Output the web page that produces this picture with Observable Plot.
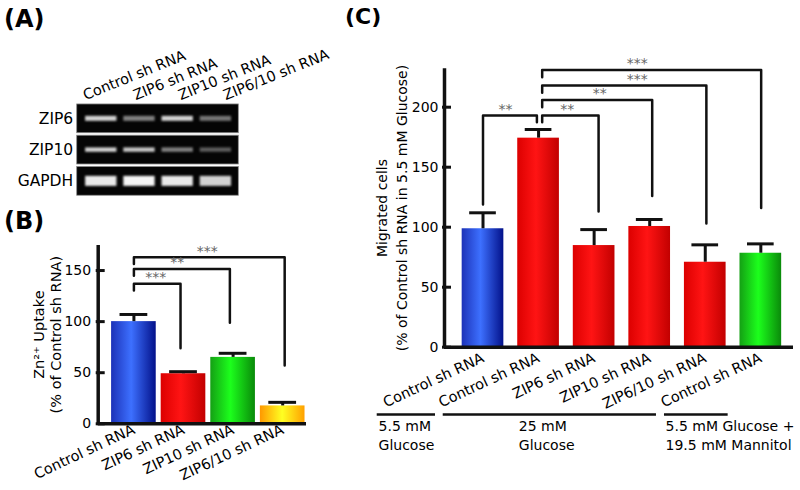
<!DOCTYPE html>
<html>
<head>
<meta charset="utf-8">
<script src="https://cdn.jsdelivr.net/npm/d3@7"></script>
<script src="https://cdn.jsdelivr.net/npm/@observablehq/plot@0.6"></script>
<style>
  body { margin: 0; background: #fff; font-family: "DejaVu Sans", sans-serif; }
  #fig { position: relative; width: 800px; height: 490px; overflow: hidden; background: #fff; }
  .panel { position: absolute; }
  .panel svg { max-width: none !important; overflow: visible; }
  .tag { position: absolute; font-family: "DejaVu Sans", sans-serif; font-weight: bold; line-height: 1; color: #000; }
</style>
</head>
<body>
<svg width="0" height="0" style="position:absolute">
  <defs>
    <linearGradient id="gBlue" x1="0" x2="1" y1="0" y2="0">
      <stop offset="0" stop-color="#1c32b8"/>
      <stop offset="0.45" stop-color="#3d70ff"/>
      <stop offset="1" stop-color="#03118a"/>
    </linearGradient>
    <linearGradient id="gRed" x1="0" x2="1" y1="0" y2="0">
      <stop offset="0" stop-color="#dc0000"/>
      <stop offset="0.45" stop-color="#ff1414"/>
      <stop offset="1" stop-color="#c20000"/>
    </linearGradient>
    <linearGradient id="gGreen" x1="0" x2="1" y1="0" y2="0">
      <stop offset="0" stop-color="#14a014"/>
      <stop offset="0.45" stop-color="#1cff1c"/>
      <stop offset="1" stop-color="#0a8a0a"/>
    </linearGradient>
    <linearGradient id="gYellow" x1="0" x2="1" y1="0" y2="0">
      <stop offset="0" stop-color="#ff9800"/>
      <stop offset="0.5" stop-color="#ffff22"/>
      <stop offset="1" stop-color="#ffa000"/>
    </linearGradient>
    <filter id="blurBand" x="-20%" y="-50%" width="140%" height="200%">
      <feGaussianBlur stdDeviation="1.3"/>
    </filter>
  </defs>
</svg>
<div id="fig">
  <div id="panelA" class="panel" style="left:0;top:0;width:345px;height:200px"></div>
  <div id="panelB" class="panel" style="left:0;top:200px;width:320px;height:290px"></div>
  <div id="panelC" class="panel" style="left:345px;top:0;width:455px;height:490px"></div>
  <div class="tag" style="left:4px;top:7px;font-size:24px">(A)</div>
  <div class="tag" style="left:4px;top:209px;font-size:24px">(B)</div>
  <div class="tag" style="left:345px;top:6px;font-size:22px">(C)</div>
</div>
<script>
// ---------- Panel A: RT-PCR gel ----------
const gelLanes = ["Control sh RNA", "ZIP6 sh RNA", "ZIP10 sh RNA", "ZIP6/10 sh RNA"];
const gelGenes = ["ZIP6", "ZIP10", "GAPDH"];
const bandZIP6 = [0.85, 0.5, 0.85, 0.45];
const bandZIP10 = [0.85, 0.8, 0.5, 0.35];
const bandGAPDH = [0.95, 1.0, 0.95, 0.85];
const laneLabelX = [-0.415, 0.9, 2.08, 3.26];

// ---------- Panel B: Zn2+ uptake ----------
const uptakeCats = ["Control sh RNA", "ZIP6 sh RNA", "ZIP10 sh RNA", "ZIP6/10 sh RNA"];
const uptakeMean = [100, 49, 65, 17.5];
const uptakeErr = [7, 2, 4, 3.5];
const uptakeTicks = [0, 50, 100, 150];
const uptakeBracketFrom = [0, 0, 0];
const uptakeBracketTo = [0.94, 1.935, 3.04];
const uptakeBracketH = [137, 151.5, 163];
const uptakeBracketFromEnd = [130.5, 145, 156.5];
const uptakeBracketToEnd = [74, 99, 57];
const uptakeStars = ["***", "**", "***"];
const uptakeStarX = [0.44, 0.875, 1.48];

// ---------- Panel C: migration ----------
const migCats = ["Control sh RNA", "Control sh RNA", "ZIP6 sh RNA", "ZIP10 sh RNA", "ZIP6/10 sh RNA", "Control sh RNA"];
const migMean = [98.7, 174.2, 84.7, 100.6, 70.8, 78.3];
const migErr = [13.3, 7.2, 13.3, 5.8, 14.5, 7.8];
const migTicks = [0, 50, 100, 150, 200];
const migBracketFrom = [0, 1.065, 1.065, 1.065, 1.065];
const migBracketTo = [0.97, 2.08, 3.045, 4.02, 5.006];
const migBracketH = [193, 193, 206, 218, 231];
const migBracketFromEnd = [119, 187.5, 200, 212, 225];
const migBracketToEnd = [187.5, 113, 126, 103, 116];
const migStars = ["**", "**", "**", "***", "***"];
const migStarX = [0.405, 1.515, 2.10, 2.775, 2.775];
const groupLabels = ["5.5 mM\nGlucose", "25 mM\nGlucose", "5.5 mM Glucose +\n19.5 mM Mannitol"];
const groupX1 = [-1.904, -0.716, 3.266];
const groupX2 = [-0.855, 3.122, 4.412];
const groupTextX = [-1.88, 0.644, 3.285];

// ---------- styles ----------
const uptakeFill = ["url(#gBlue)", "url(#gRed)", "url(#gGreen)", "url(#gYellow)"];
const migFill = ["url(#gBlue)", "url(#gRed)", "url(#gRed)", "url(#gRed)", "url(#gRed)", "url(#gGreen)"];
const FONT = "DejaVu Sans";
const baseStyle = {fontFamily: FONT, fontSize: "14px", color: "#000", background: "transparent", overflow: "visible"};
const INK = "#111";

function bracketPoints(from, to, h, fromEnd, toEnd) {
  return from.flatMap((f, k) => [
    {id: k, x: f, y: fromEnd[k]},
    {id: k, x: f, y: h[k]},
    {id: k, x: to[k], y: h[k]},
    {id: k, x: to[k], y: toEnd[k]}
  ]);
}

// ===== Panel A =====
const gelRows = gelGenes.map((gene, row) => ({gene, row}));
const bands = [bandZIP6, bandZIP10, bandGAPDH].flatMap((vals, row) =>
  vals.map((v, lane) => ({row, lane, v})));
const bandHalf = [0.08, 0.07, 0.16];
const xDomA = [-0.63, 3.6];
const A = Plot.plot({
  width: 345, height: 200,
  marginLeft: 76.7, marginRight: 106.7, marginTop: 102.7, marginBottom: 3.5,
  x: {domain: xDomA, axis: null},
  y: {domain: [-0.5, 2.5], reverse: true, axis: null},
  color: {type: "identity"},
  style: baseStyle,
  marks: [
    Plot.rect(gelRows, {x1: xDomA[0], x2: xDomA[1], y1: d => d.row - 0.46, y2: d => d.row + 0.46,
      fill: "#050505", stroke: "#8a8a8a", strokeWidth: 0.8}),
    Plot.rect(bands, {x1: d => d.lane - 0.41, x2: d => d.lane + 0.41,
      y1: d => d.row - bandHalf[d.row], y2: d => d.row + bandHalf[d.row],
      fill: d => d3.rgb(235 * d.v + 10, 235 * d.v + 10, 235 * d.v + 10).formatHex()}),
    Plot.text(gelRows, {x: xDomA[0], y: "row", text: "gene", textAnchor: "end", dx: -4, fontSize: 15.5}),
    Plot.text(gelLanes, {x: (d, i) => laneLabelX[i], y: -0.5, text: d => d, rotate: -22,
      textAnchor: "start", lineAnchor: "bottom", dy: -3, fontSize: 14.5})
  ]
});
const rectGroups = A.querySelectorAll('g[aria-label="rect"]');
if (rectGroups[1]) rectGroups[1].setAttribute("filter", "url(#blurBand)");
document.getElementById("panelA").append(A);

// ===== Panel B =====
const uptake = uptakeCats.map((c, i) => ({i, c, mean: uptakeMean[i], err: uptakeErr[i], fill: uptakeFill[i]}));
const xDomB = [-0.72, 3.48];
const B = Plot.plot({
  width: 320, height: 290,
  marginLeft: 97.7, marginRight: 14, marginTop: 45, marginBottom: 66.7,
  x: {domain: xDomB, axis: null},
  y: {domain: [0, 174.5], axis: null},
  color: {type: "identity"},
  style: baseStyle,
  marks: [
    Plot.rect(uptake, {x1: d => d.i - 0.45, x2: d => d.i + 0.45, y1: 0, y2: "mean", fill: "fill"}),
    Plot.ruleX(uptake, {x: "i", y1: "mean", y2: d => d.mean + d.err, stroke: INK, strokeWidth: 3}),
    Plot.ruleY(uptake, {y: d => d.mean + d.err, x1: d => d.i - 0.28, x2: d => d.i + 0.28, stroke: INK, strokeWidth: 3}),
    Plot.line(bracketPoints(uptakeBracketFrom, uptakeBracketTo, uptakeBracketH, uptakeBracketFromEnd, uptakeBracketToEnd),
      {x: "x", y: "y", z: "id", stroke: INK, strokeWidth: 2.5}),
    Plot.text(uptakeStars, {x: (d, i) => uptakeStarX[i], y: (d, i) => uptakeBracketH[i], text: d => d,
      fill: "#666", fontSize: 14, dy: -6, lineAnchor: "middle"}),
    Plot.ruleX([xDomB[0]], {stroke: INK, strokeWidth: 3.5}),
    Plot.ruleY([0], {stroke: INK, strokeWidth: 3.5}),
    Plot.axisY(uptakeTicks, {tickSize: 9, dx: 7, tickFormat: () => "", stroke: INK, strokeWidth: 3, label: null}),
    Plot.axisY(uptakeTicks, {tickSize: 0, tickPadding: 7, fontSize: 14, label: null}),
    Plot.axisX(uptake.map(d => d.i), {tickFormat: i => uptakeCats[i], tickRotate: -25, tickSize: 0,
      tickPadding: 5, fontSize: 14.5, label: null}),
    Plot.text(["Zn²⁺ Uptake\n(% of Control sh RNA)"], {frameAnchor: "left", rotate: -90, dx: -51,
      text: d => d, fontSize: 14.5, lineHeight: 1.2, lineAnchor: "middle", textAnchor: "middle"})
  ]
});
document.getElementById("panelB").append(B);

// ===== Panel C =====
const mig = migCats.map((c, i) => ({i, c, mean: migMean[i], err: migErr[i], fill: migFill[i]}));
const groups = groupLabels.map((label, k) => ({label, x1: groupX1[k], x2: groupX2[k], tx: groupTextX[k]}));
const xDomC = [-0.693, 5.588];
const C = Plot.plot({
  width: 455, height: 490,
  marginLeft: 99, marginRight: 7, marginTop: 68.3, marginBottom: 143.3,
  x: {domain: xDomC, axis: null},
  y: {domain: [0, 232], axis: null},
  color: {type: "identity"},
  style: baseStyle,
  marks: [
    Plot.rect(mig, {x1: d => d.i - 0.375, x2: d => d.i + 0.375, y1: 0, y2: "mean", fill: "fill"}),
    Plot.ruleX(mig, {x: "i", y1: "mean", y2: d => d.mean + d.err, stroke: INK, strokeWidth: 3}),
    Plot.ruleY(mig, {y: d => d.mean + d.err, x1: d => d.i - 0.24, x2: d => d.i + 0.24, stroke: INK, strokeWidth: 3}),
    Plot.line(bracketPoints(migBracketFrom, migBracketTo, migBracketH, migBracketFromEnd, migBracketToEnd),
      {x: "x", y: "y", z: "id", stroke: INK, strokeWidth: 2.5}),
    Plot.text(migStars, {x: (d, i) => migStarX[i], y: (d, i) => migBracketH[i], text: d => d,
      fill: "#666", fontSize: 14, dy: -6, lineAnchor: "middle"}),
    Plot.ruleX([xDomC[0]], {stroke: INK, strokeWidth: 3.5}),
    Plot.ruleY([0], {stroke: INK, strokeWidth: 3.5}),
    Plot.axisY(migTicks, {tickSize: 9, dx: 7, tickFormat: () => "", stroke: INK, strokeWidth: 3, label: null}),
    Plot.axisY(migTicks, {tickSize: 0, tickPadding: 6, fontSize: 14, label: null}),
    Plot.axisX(mig.map(d => d.i), {tickFormat: i => migCats[i], tickRotate: -25, tickSize: 0,
      tickPadding: 10, fontSize: 14.5, label: null}),
    Plot.text(["Migrated cells\n(% of Control sh RNA in 5.5 mM Glucose)"], {frameAnchor: "left", rotate: -90, dx: -54,
      text: d => d, fontSize: 14, lineHeight: 1.4, lineAnchor: "middle", textAnchor: "middle"}),
    Plot.ruleY(groups, {y: -56, x1: "x1", x2: "x2", stroke: INK, strokeWidth: 2.5}),
    Plot.text(groups, {x: "tx", y: -59, text: "label", textAnchor: "start", lineAnchor: "top",
      fontSize: 14, lineHeight: 1.33})
  ]
});
document.getElementById("panelC").append(C);
</script>
</body>
</html>
